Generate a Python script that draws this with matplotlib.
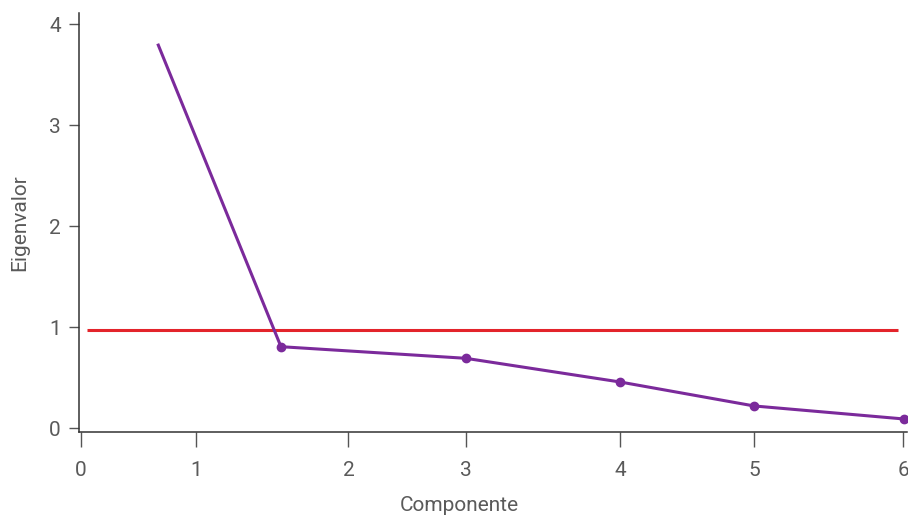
import matplotlib
matplotlib.use("Agg")
import matplotlib.pyplot as plt

# tick labels of the "Componente" axis and where they sit on it (the original axis is not evenly spaced)
comp_labels = ["0", "1", "2", "3", "4", "5", "6"]
comp_ticks = [0.0, 0.841, 1.951, 2.807, 3.934, 4.910, 5.999]

# scree curve
comp_x = [0.564, 1.459, 2.807, 3.935, 4.911, 6.005]
eigen = [3.795, 0.808, 0.693, 0.458, 0.221, 0.092]

# Kaiser criterion line
kaiser_x = [0.044, 5.959]
kaiser_y = [0.97, 0.97]

plt.rcParams['font.family'] = ['Roboto', 'DejaVu Sans']

fig = plt.figure(figsize=(9.08, 5.17), dpi=100)
ax = fig.add_axes([79 / 908, 85 / 517, 828 / 908, 419 / 517])

ax.plot(kaiser_x, kaiser_y, color="#e3242b", lw=2.2, solid_capstyle="butt")
ax.plot(comp_x, eigen, color="#7b2a9b", lw=2.2)
ax.plot(comp_x[1:], eigen[1:], "o", color="#7b2a9b", ms=6)

ax.set_xlim(-0.0146, 6.027)
ax.set_ylim(-0.037, 4.113)

ax.set_xticks(comp_ticks)
ax.set_xticklabels(comp_labels)
ax.set_yticks([0, 1, 2, 3, 4])

for s in ["top", "right"]:
    ax.spines[s].set_visible(False)
for s in ["left", "bottom"]:
    ax.spines[s].set_color("#333333")
    ax.spines[s].set_linewidth(1.1)

txt = "#5a5a5a"
ax.tick_params(axis="x", direction="out", length=11, width=1, color="#555555",
               labelsize=15, labelcolor=txt, pad=10)
ax.tick_params(axis="y", direction="out", length=7, width=1, color="#555555",
               labelsize=15, labelcolor=txt, pad=6)

ax.set_xlabel("Componente", fontsize=15, color=txt)
ax.xaxis.set_label_coords(0.459, -0.152)
ax.set_ylabel("Eigenvalor", fontsize=15, color=txt, labelpad=14)

fig.savefig("out.png", dpi=100)
